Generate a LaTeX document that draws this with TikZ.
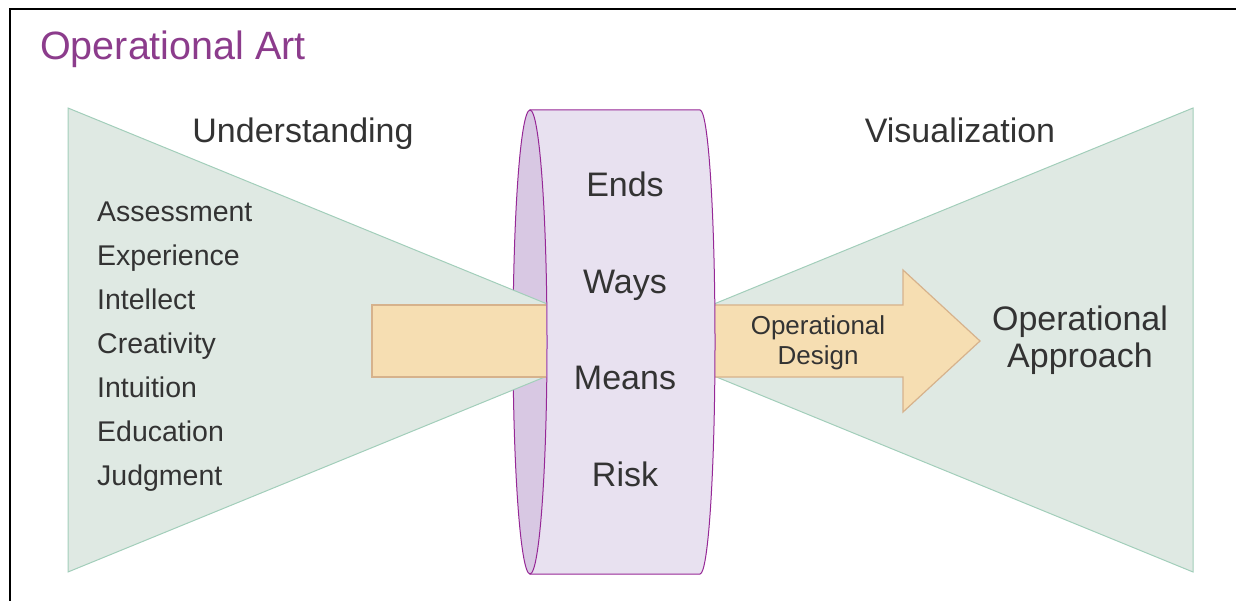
\documentclass[tikz,border=0pt]{standalone}
\usepackage{fontspec}
\setmainfont{Liberation Sans}
\usepackage{tikz}
\usetikzlibrary{shapes,arrows,positioning}
\definecolor{artpurple}{RGB}{140, 60, 140}
\definecolor{txtgray}{RGB}{51, 51, 51}
\definecolor{wedgefill}{RGB}{223, 233, 227}
\definecolor{wedgeline}{RGB}{162, 206, 186}
\definecolor{drumfill}{RGB}{232, 225, 240}
\definecolor{capfill}{RGB}{216, 200, 227}
\definecolor{drumline}{RGB}{150, 40, 150}
\definecolor{designfill}{RGB}{246, 222, 178}
\definecolor{designline}{RGB}{214, 178, 140}
\tikzstyle{wedge} = [draw=wedgeline, fill=wedgefill, line width=1pt]
\tikzstyle{drum} = [draw=drumline, fill=drumfill, line width=1pt]
\tikzstyle{drumcap} = [draw=drumline, fill=capfill, line width=1pt]
\tikzstyle{designarrow} = [draw=designline, fill=designfill, line width=1.2pt, line join=miter]
\tikzstyle{heading} = [text=txtgray, inner sep=0pt, font=\fontsize{34}{37}\selectfont]
\tikzstyle{factor} = [text=txtgray, inner sep=0pt, text width=180pt, align=left, text height=20pt, text depth=0pt, font=\fontsize{28.5}{32}\selectfont]
\tikzstyle{element} = [text=txtgray, inner sep=0pt, text height=24pt, text depth=0pt, font=\fontsize{34}{37}\selectfont]

\begin{document}
\begin{tikzpicture}[x=1pt, y=-1pt]
\useasboundingbox (0,0) rectangle (1236,601);

% frame and title =============================
\draw[line width=2.5pt] (10,601) -- (10,9) -- (1236,9);
\node[anchor=base west, text=artpurple, inner sep=0pt, font=\fontsize{39.5}{44}\selectfont] (title) at (40,60) {Operational Art};

% right wedge and arrow, behind the drum
\filldraw[wedge] (1193,108) -- (626,340) -- (1193,572) -- cycle;
\filldraw[designarrow] (700,305) -- (903,305) -- (903,270) -- (980,341) -- (903,412) -- (903,377) -- (700,377) -- cycle;

% drum
\filldraw[drum] (530,110) -- (700,110) arc[start angle=-90, end angle=90, x radius=15, y radius=232] -- (530,574) -- cycle;
\filldraw[drumcap] (530,342) ellipse [x radius=17, y radius=232];

% left wedge and arrow, over the cap
\fill[wedgefill] (546,303.5) -- (68,108) -- (68,572) -- (546,376.5) -- cycle;
\draw[wedgeline, line width=1pt] (546,303.5) -- (68,108) -- (68,572) -- (546,376.5);
\fill[designfill] (546,305) -- (372,305) -- (372,377) -- (546,377) -- cycle;
\draw[designline, line width=1.2pt, line join=miter] (546,305) -- (372,305) -- (372,377) -- (546,377);

% labels =============================

% understanding side
\node[heading, anchor=base] (under) at (303,143) {Understanding};
\node[factor, anchor=west] (assess) at (97,212) {Assessment};
\node[factor, below=23.5pt of assess] (exper) {Experience};
\node[factor, below=23.5pt of exper] (intel) {Intellect};
\node[factor, below=23.5pt of intel] (creat) {Creativity};
\node[factor, below=23.5pt of creat] (intui) {Intuition};
\node[factor, below=23.5pt of intui] (educ) {Education};
\node[factor, below=23.5pt of educ] (judg) {Judgment};

% drum
\node[element] (ends) at (625,185) {Ends};
\node[element, below=72pt of ends] (ways) {Ways};
\node[element, below=72pt of ways] (means) {Means};
\node[element, below=72pt of means] (risk) {Risk};

% visualization side
\node[heading, anchor=base] (visual) at (960,143) {Visualization};
\node[text=txtgray, inner sep=0pt, align=center, font=\fontsize{26}{30}\selectfont] (design) at (818,343) {Operational\\Design};
\node[heading, align=center] (approach) at (1080,340) {Operational\\Approach};

\end{tikzpicture}
\end{document}
